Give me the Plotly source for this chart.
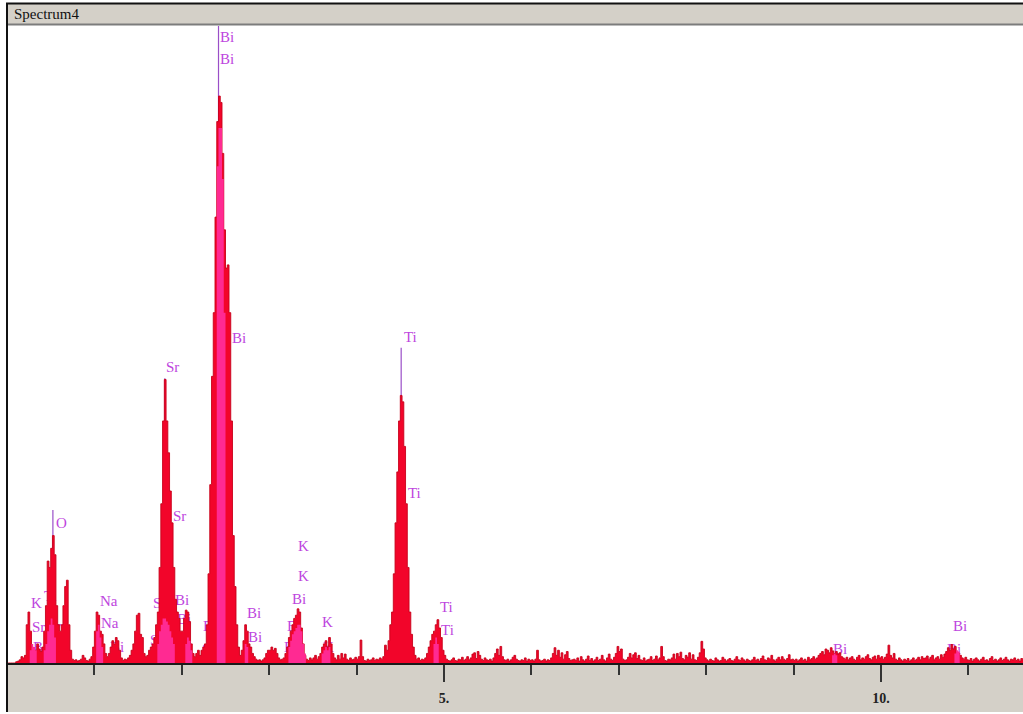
import plotly.graph_objects as go

# ---------------- data (EDS spectrum, counts in % of full scale, 0.02 keV channels) ----------------
CHANNEL_KEV = 0.02

counts_00_05 = [0, 0, 0, 0, 0, 0.2, 0.3, 0.5, 1.0, 0.8, 1.2, 6, 8, 5, 2.5, 1.5, 2, 3, 2.2, 1.8, 2.5, 5, 9, 16, 15]
counts_05_10 = [18, 20, 17, 9, 6, 5, 6, 9, 12, 13, 6, 2, 0.6, 0.4, 0.5, 0.3, 0.4, 0.6, 1.2, 0.8, 0.4, 0.3, 0.6, 1.0, 2.5]
counts_10_15 = [5, 8, 7.5, 5, 4.5, 3, 1.5, 1, 1.5, 2.5, 3.5, 3, 4, 3.5, 2, 0.8, 0.4, 0.6, 0.5, 0.8, 1.2, 2, 3, 5, 7.5]
counts_15_20 = [7.8, 4.5, 4, 1.5, 1, 1.2, 2, 2.5, 3, 4, 6, 8, 15, 25, 38, 44.5, 38, 33, 27, 22, 15, 10, 8, 7, 5]
counts_20_25 = [5, 7, 8.3, 8, 6.5, 3, 1.5, 1, 1.5, 2, 1.2, 2, 2.5, 3, 6, 14, 28, 45, 55, 70, 85, 89, 88, 80, 68]
counts_25_30 = [62, 62.5, 55, 38, 20, 12, 6, 2.5, 1.2, 2, 3.5, 6, 5, 3, 2.5, 1.5, 1, 0.6, 0.4, 0.5, 0.3, 0.5, 0.8, 1.5, 2]
counts_30_35 = [2, 2.5, 2, 2.3, 1.5, 0.8, 0.5, 0.6, 0.8, 1.5, 2.5, 4, 5, 6, 7, 7.5, 8.5, 8, 5.5, 3, 1.2, 0.6, 0.4, 0.8, 0.5]
counts_35_40 = [0.8, 1.2, 0.6, 1, 1.5, 2.5, 3, 3.5, 2.5, 4, 3, 1.5, 0.8, 0.5, 1.2, 0.6, 1.5, 0.8, 1.4, 0.6, 0.4, 0.8, 0.5, 0.6, 0.9]
counts_40_45 = [0.6, 1, 3.6, 1, 0.4, 0.3, 0.6, 0.4, 0.5, 0.8, 0.4, 0.6, 0.5, 0.8, 0.6, 1, 2.8, 2, 3.5, 6, 8, 14, 22, 30, 38]
counts_45_50 = [42, 41, 34, 25, 15, 8, 4.5, 2.5, 1.2, 0.6, 0.8, 0.4, 0.6, 0.5, 0.8, 1.5, 2.5, 3.5, 4.5, 5, 6, 6.8, 5.5, 4, 2]
counts_50_55 = [1.2, 0.6, 0.4, 0.3, 0.5, 0.8, 0.4, 0.3, 0.6, 0.5, 0.9, 0.4, 0.6, 1.0, 0.5, 0.8, 1.4, 1.6, 0.7, 1.8, 1.2, 0.6, 0.4, 0.8, 0.5]
counts_55_60 = [0.4, 0.6, 0.3, 0.8, 1.5, 2.2, 1.2, 2.6, 1.0, 0.5, 0.4, 0.6, 0.3, 0.5, 0.9, 1.2, 0.6, 0.4, 0.3, 0.5, 0.4, 0.8, 0.3, 0.6, 0.4]
counts_60_65 = [0.5, 0.3, 0.6, 2.0, 0.5, 0.3, 0.4, 0.6, 0.3, 0.5, 0.4, 0.8, 1.5, 2.4, 1.2, 2.0, 0.9, 1.6, 0.6, 1.3, 1.8, 0.7, 0.4, 0.5, 0.6]
counts_65_70 = [0.4, 0.8, 0.3, 1.0, 0.5, 0.3, 0.6, 1.1, 0.4, 0.7, 0.3, 0.5, 0.9, 0.4, 0.6, 1.2, 0.5, 0.3, 0.8, 1.4, 0.6, 0.4, 0.9, 1.5, 2.6]
counts_70_75 = [1.8, 2.2, 0.6, 0.4, 0.5, 0.9, 1.5, 0.8, 1.3, 1.6, 0.7, 1.2, 0.5, 0.4, 0.8, 0.3, 0.5, 0.6, 1.0, 0.4, 0.6, 1.1, 0.5, 0.8, 2.6]
counts_75_80 = [1.0, 0.4, 0.3, 0.6, 0.5, 0.8, 1.4, 0.6, 1.5, 1.0, 1.7, 0.7, 0.5, 1.2, 0.9, 1.6, 0.6, 1.3, 0.5, 0.4, 0.9, 1.6, 3.4, 2.2, 0.8]
counts_80_85 = [0.5, 0.3, 0.6, 0.4, 0.3, 0.8, 0.5, 0.3, 0.4, 0.9, 0.6, 0.3, 0.5, 0.7, 0.4, 0.3, 0.6, 1.0, 0.5, 0.4, 0.8, 0.5, 0.3, 0.6, 0.4]
counts_85_90 = [0.3, 0.5, 0.9, 0.4, 0.6, 0.3, 0.7, 1.1, 0.5, 0.4, 0.8, 0.6, 1.2, 0.5, 0.3, 0.6, 0.9, 0.5, 1.0, 0.6, 0.4, 0.7, 1.3, 0.5, 0.6]
counts_90_95 = [0.4, 0.6, 0.3, 0.5, 0.8, 0.4, 0.6, 0.3, 0.9, 0.5, 0.7, 1.0, 0.6, 0.8, 1.2, 1.5, 1.8, 1.3, 2.2, 2.0, 1.6, 2.4, 1.9, 1.5, 1.8]
counts_95_100 = [1.4, 1.6, 1.0, 0.8, 0.6, 0.9, 0.5, 0.8, 1.0, 0.6, 0.4, 0.9, 1.2, 0.5, 0.8, 0.6, 1.0, 1.3, 0.7, 0.5, 0.9, 1.1, 0.6, 1.2, 0.8]
counts_100_105 = [1.0, 0.6, 0.9, 1.4, 2.8, 1.2, 0.8, 1.5, 0.6, 0.4, 0.8, 0.5, 0.3, 0.6, 0.4, 0.7, 0.3, 0.5, 0.8, 0.4, 0.6, 0.9, 0.5, 1.0, 0.7]
counts_105_110 = [0.8, 1.1, 0.6, 0.9, 1.2, 0.5, 0.8, 1.0, 0.6, 1.3, 0.9, 1.4, 1.8, 2.4, 2.0, 2.9, 2.2, 2.6, 1.7, 1.5, 1.2, 0.8, 0.6, 0.9, 0.5]
counts_110_115 = [0.4, 0.7, 0.3, 0.6, 0.8, 0.5, 0.3, 0.6, 0.9, 0.4, 0.5, 0.3, 0.7, 1.0, 0.4, 0.6, 0.3, 0.5, 0.8, 0.4, 0.6, 0.9, 0.5, 0.3, 0.6]
counts_115_120 = [0.5, 0.8, 0.4, 0.6, 0.3, 0.7, 0.5]

counts = (counts_00_05 + counts_05_10 + counts_10_15 + counts_15_20 + counts_20_25 + counts_25_30
          + counts_30_35 + counts_35_40 + counts_40_45 + counts_45_50 + counts_50_55 + counts_55_60
          + counts_60_65 + counts_65_70 + counts_70_75 + counts_75_80 + counts_80_85 + counts_85_90
          + counts_90_95 + counts_95_100 + counts_100_105 + counts_105_110 + counts_110_115 + counts_115_120)

# fitted (pink) spectrum, only where it shows: (start keV, channel values)
fit_windows = [
    (0.26, [2, 3, 2.5, 2]),
    (0.42, [2, 3, 5, 6, 7, 6, 4]),
    (1.02, [5, 6, 4, 2.5]),
    (1.72, [3, 5, 6, 7, 7, 6.5, 6, 5, 4, 3]),
    (2.04, [3, 4, 3.5, 2]),
    (2.40, [78, 84, 84, 76, 55]),
    (2.72, [3, 2.5]),
    (3.22, [2.5, 3.5, 4.5, 5, 5.5, 6, 6, 5, 3, 1.5]),
    (3.60, [1.5, 2, 2.5, 2, 2.5]),
    (4.88, [3, 4, 3]),
    (9.44, [1.2, 1.5, 1.2]),
    (10.84, [1.5, 2, 1.8]),
]

# KLM marker lines
marker_kev = [0.525, 1.806, 2.42, 4.51]
marker_top = [24, 44.7, 100, 49.5]

# element labels
label_text = ["Bi", "Bi", "Bi", "Sr", "Sr", "O", "Ti", "Ti", "Ti", "Ti",
              "K", "K", "Bi", "Bi", "Bi", "K", "K", "Bi", "Bi", "Na", "Na",
              "K", "Ti", "Sr", "Ti", "Bi", "Bi", "Sr", "Bi", "Sr", "Bi", "Bi", "Sr",
              "Bi", "Bi", "Bi"]
label_kev = [2.437, 2.437, 2.574, 1.819, 1.899, 0.561, 4.542, 4.588, 4.954, 4.966,
             3.330, 3.330, 3.261, 3.204, 3.169, 3.604, 3.616, 2.746, 2.757, 1.064, 1.076,
             0.275, 0.423, 0.286, 0.515, 0.297, 1.178, 1.670, 1.922, 1.636, 1.945, 2.243, 2.231,
             10.824, 10.755, 9.451]
label_height = [98.1, 94.7, 50.9, 46.2, 22.9, 21.8, 51.0, 26.5, 8.6, 5.0,
                18.2, 13.5, 9.9, 5.65, 2.35, 6.3, 2.35, 7.7, 3.9, 9.6, 6.1,
                9.3, 10.4, 5.5, 5.2, 2.35, 2.35, 9.3, 9.7, 3.45, 6.75, 5.65, 2.0,
                5.65, 2.0, 2.0]

title_text = "Spectrum4"

# ---------------- build ----------------
W, H = 1023, 714
n = len(counts)
edges = [round(i * CHANNEL_KEV, 4) for i in range(n + 1)]
ys = counts + [counts[-1]]

fit = [0.0] * n
for start, vals in fit_windows:
    c0 = int(round(start / CHANNEL_KEV))
    for k, v in enumerate(vals):
        fit[c0 + k] = v
fit_y = fit + [fit[-1]]

mx, my = [], []
for e, t in zip(marker_kev, marker_top):
    mx += [e, e, None]
    my += [0, t, None]

fig = go.Figure()

LABEL_COLOR = "#BE45DE"
fig.add_trace(go.Scatter(
    x=label_kev, y=label_height, text=label_text, mode="text",
    textposition="middle right",
    textfont=dict(family="Liberation Serif", size=15, color=LABEL_COLOR),
    hoverinfo="skip", showlegend=False))

fig.add_trace(go.Scatter(
    x=mx, y=my, mode="lines", line=dict(color="#9A4FC8", width=1.2),
    hoverinfo="skip", showlegend=False))

fig.add_trace(go.Scatter(
    x=edges, y=ys, mode="lines", line_shape="hv",
    line=dict(color="#C8001A", width=0.9),
    fill="tozeroy", fillcolor="#F2052A",
    hoverinfo="skip", showlegend=False))

fig.add_trace(go.Scatter(
    x=edges, y=fit_y, mode="lines", line_shape="hv",
    line=dict(color="rgba(0,0,0,0)", width=0),
    fill="tozeroy", fillcolor="#FF2A92",
    hoverinfo="skip", showlegend=False))


def px(x):
    return x / W


def py(y):
    return 1 - y / H


x_lo = (8 - 7) / 87.4
x_hi = (W - 7) / 87.4

fig.update_layout(
    width=W, height=H, margin=dict(l=0, r=0, t=0, b=0),
    paper_bgcolor="white", plot_bgcolor="white",
    xaxis=dict(domain=[px(8), 1], range=[x_lo, x_hi], showgrid=False, zeroline=False,
               showline=True, linecolor="#1a1a1a", linewidth=2,
               tickmode="linear", tick0=0, dtick=5, ticks="outside", ticklen=17,
               tickwidth=1.5, tickcolor="#333333", ticksuffix=".",
               tickfont=dict(family="Liberation Serif", size=14, color="#222222", weight="bold"),
               ticklabelstandoff=4,
               minor=dict(dtick=1, tick0=0, ticks="outside", ticklen=10, tickwidth=1.5,
                          tickcolor="#333333", showgrid=False)),
    yaxis=dict(domain=[py(663), py(26)], range=[0, 100], showgrid=False, zeroline=False,
               showline=False, showticklabels=False, ticks=""),
    shapes=[
        dict(type="rect", xref="paper", yref="paper", x0=px(8), x1=1, y0=py(712), y1=py(664),
             fillcolor="#D4D0C8", line=dict(width=0), layer="below"),
        dict(type="rect", xref="paper", yref="paper", x0=px(8), x1=1, y0=py(24), y1=py(4),
             fillcolor="#D4D0C8", line=dict(width=0), layer="above"),
        dict(type="line", xref="paper", yref="paper", x0=px(8), x1=1, y0=py(24.5), y1=py(24.5),
             line=dict(color="#7C7C7C", width=2), layer="above"),
        dict(type="line", xref="paper", yref="paper", x0=px(6), x1=1, y0=py(3.5), y1=py(3.5),
             line=dict(color="#111111", width=2), layer="above"),
        dict(type="line", xref="paper", yref="paper", x0=px(7), x1=px(7), y0=py(3), y1=py(712),
             line=dict(color="#111111", width=2), layer="above"),
    ],
    annotations=[
        dict(text=title_text, xref="paper", yref="paper", x=px(12), y=py(14),
             xanchor="left", yanchor="middle", showarrow=False,
             font=dict(family="Liberation Serif", size=15, color="#111111")),
    ],
)

fig.write_html("out.html", config={"displayModeBar": False},
               post_script="document.body.style.margin='0px';")
